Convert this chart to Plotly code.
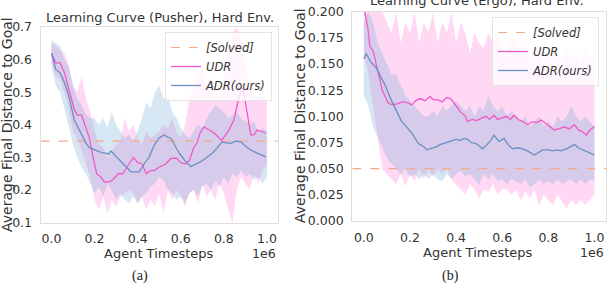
import plotly.graph_objects as go

# ---------------- data: panel (a) Pusher ----------------
a_udr_t = [0.0,0.02,0.04,0.06,0.08,0.107,0.12,0.14,0.16,0.176,0.19,0.21,0.23,0.245,0.27,0.29,0.31,0.33,0.35,0.38,0.40,0.42,0.44,0.46,0.477,0.50,0.53,0.554,0.58,0.60,0.62,0.64,0.66,0.676,0.69,0.708,0.73,0.755,0.77,0.79,0.82,0.847,0.865,0.885,0.895,0.91,0.925,0.94,0.955,0.975,0.994]
a_udr_v = [0.62,0.59,0.59,0.56,0.51,0.445,0.43,0.43,0.39,0.36,0.31,0.25,0.24,0.225,0.225,0.235,0.25,0.25,0.27,0.30,0.285,0.28,0.25,0.26,0.26,0.27,0.28,0.297,0.298,0.285,0.28,0.29,0.33,0.345,0.375,0.394,0.385,0.375,0.365,0.353,0.38,0.415,0.47,0.515,0.49,0.43,0.369,0.37,0.384,0.38,0.375]
a_adr_t = [0.0,0.02,0.04,0.06,0.08,0.106,0.125,0.145,0.16,0.176,0.195,0.213,0.233,0.253,0.265,0.276,0.29,0.305,0.338,0.369,0.39,0.407,0.43,0.454,0.477,0.50,0.523,0.54,0.554,0.575,0.593,0.62,0.647,0.67,0.693,0.72,0.747,0.77,0.793,0.81,0.832,0.855,0.878,0.90,0.925,0.95,0.97,0.994]
a_adr_v = [0.62,0.57,0.56,0.53,0.49,0.415,0.39,0.364,0.344,0.33,0.325,0.318,0.315,0.313,0.31,0.32,0.31,0.298,0.277,0.256,0.255,0.256,0.28,0.302,0.338,0.36,0.369,0.362,0.359,0.335,0.313,0.29,0.272,0.28,0.287,0.30,0.313,0.33,0.348,0.345,0.343,0.35,0.348,0.335,0.323,0.315,0.31,0.302]

band_t = [0.00,0.02,0.04,0.06,0.08,0.10,0.12,0.14,0.16,0.18,0.20,0.22,0.24,0.26,0.28,0.30,0.32,0.34,0.36,0.38,0.40,0.42,0.44,0.46,0.48,0.50,0.52,0.54,0.56,0.58,0.60,0.62,0.64,0.66,0.68,0.70,0.72,0.74,0.76,0.78,0.80,0.82,0.84,0.86,0.88,0.90,0.92,0.94,0.96,0.98,1.00]

a_udr_lo = [0.59,0.55,0.54,0.50,0.45,0.38,0.36,0.32,0.28,0.24,0.17,0.14,0.18,0.13,0.17,0.15,0.18,0.19,0.20,0.19,0.16,0.18,0.14,0.17,0.15,0.19,0.13,0.20,0.17,0.20,0.18,0.15,0.19,0.20,0.16,0.22,0.18,0.20,0.17,0.22,0.19,0.14,0.10,0.20,0.24,0.22,0.20,0.25,0.22,0.26,0.28]
a_udr_hi = [0.65,0.64,0.63,0.62,0.58,0.52,0.50,0.55,0.48,0.44,0.38,0.34,0.33,0.30,0.32,0.34,0.35,0.42,0.38,0.40,0.36,0.34,0.38,0.36,0.37,0.38,0.40,0.39,0.42,0.38,0.36,0.40,0.48,0.52,0.56,0.58,0.52,0.56,0.50,0.48,0.55,0.62,0.68,0.70,0.66,0.58,0.52,0.50,0.48,0.50,0.47]
a_adr_lo = [0.58,0.52,0.50,0.45,0.40,0.34,0.30,0.27,0.25,0.22,0.19,0.21,0.18,0.22,0.20,0.17,0.19,0.17,0.16,0.18,0.16,0.18,0.19,0.21,0.22,0.24,0.23,0.20,0.19,0.17,0.18,0.16,0.19,0.20,0.18,0.21,0.22,0.20,0.23,0.21,0.24,0.22,0.25,0.24,0.26,0.24,0.25,0.23,0.24,0.22,0.24]
a_adr_hi = [0.66,0.65,0.64,0.60,0.58,0.52,0.48,0.46,0.43,0.42,0.42,0.40,0.42,0.39,0.44,0.40,0.38,0.36,0.37,0.35,0.38,0.42,0.47,0.45,0.50,0.52,0.48,0.49,0.44,0.42,0.39,0.37,0.36,0.38,0.40,0.39,0.42,0.44,0.46,0.45,0.44,0.42,0.43,0.44,0.42,0.41,0.40,0.41,0.38,0.39,0.38]
a_solved = 0.35

# ---------------- data: panel (b) Ergo ----------------
b_udr_t = [0.0,0.004,0.019,0.026,0.041,0.063,0.08,0.092,0.105,0.121,0.143,0.17,0.19,0.208,0.225,0.245,0.265,0.288,0.30,0.317,0.34,0.36,0.376,0.39,0.405,0.42,0.441,0.448,0.47,0.49,0.507,0.53,0.545,0.565,0.58,0.594,0.62,0.635,0.651,0.67,0.69,0.71,0.73,0.75,0.769,0.79,0.81,0.826,0.845,0.869,0.89,0.913,0.93,0.95,0.965,0.98,1.0]
b_udr_v = [0.22,0.2,0.182,0.167,0.162,0.141,0.125,0.119,0.113,0.111,0.112,0.114,0.113,0.111,0.115,0.117,0.115,0.119,0.116,0.116,0.114,0.118,0.117,0.113,0.109,0.104,0.1,0.095,0.097,0.096,0.098,0.1,0.097,0.101,0.097,0.098,0.1,0.097,0.101,0.097,0.095,0.092,0.095,0.094,0.0965,0.093,0.09,0.087,0.088,0.09,0.088,0.092,0.087,0.085,0.082,0.087,0.09]
b_adr_t = [0.0,0.01,0.03,0.055,0.075,0.092,0.12,0.14,0.164,0.185,0.208,0.237,0.26,0.273,0.288,0.3,0.317,0.33,0.346,0.36,0.376,0.4,0.419,0.434,0.45,0.465,0.485,0.5,0.514,0.53,0.55,0.565,0.575,0.587,0.608,0.625,0.645,0.665,0.689,0.71,0.739,0.76,0.776,0.8,0.82,0.834,0.855,0.878,0.895,0.914,0.93,0.95,0.975,1.0]
b_adr_v = [0.155,0.16,0.152,0.146,0.137,0.13,0.115,0.106,0.095,0.09,0.084,0.074,0.071,0.068,0.069,0.07,0.071,0.073,0.074,0.075,0.076,0.078,0.077,0.079,0.078,0.075,0.074,0.072,0.069,0.072,0.077,0.082,0.079,0.076,0.079,0.073,0.069,0.07,0.069,0.067,0.063,0.066,0.068,0.068,0.067,0.068,0.067,0.069,0.071,0.073,0.07,0.068,0.066,0.063]

b_udr_lo = [0.16,0.14,0.11,0.08,0.05,0.045,0.04,0.035,0.045,0.033,0.045,0.038,0.05,0.04,0.05,0.042,0.05,0.045,0.05,0.04,0.035,0.03,0.025,0.035,0.03,0.022,0.03,0.028,0.035,0.025,0.03,0.03,0.025,0.03,0.02,0.028,0.022,0.03,0.015,0.025,0.02,0.015,0.025,0.018,0.012,0.02,0.015,0.02,0.015,0.02,0.025]
b_udr_hi = [0.26,0.24,0.22,0.21,0.20,0.19,0.18,0.20,0.17,0.19,0.18,0.20,0.17,0.19,0.18,0.20,0.17,0.19,0.18,0.20,0.17,0.19,0.18,0.16,0.18,0.17,0.165,0.18,0.17,0.18,0.165,0.16,0.18,0.17,0.16,0.17,0.155,0.165,0.16,0.15,0.165,0.155,0.16,0.15,0.165,0.155,0.16,0.15,0.165,0.155,0.16]
b_adr_lo = [0.12,0.11,0.09,0.08,0.07,0.06,0.055,0.05,0.045,0.05,0.042,0.045,0.04,0.045,0.04,0.045,0.04,0.038,0.045,0.04,0.045,0.048,0.042,0.045,0.04,0.035,0.045,0.04,0.045,0.038,0.04,0.035,0.04,0.038,0.035,0.04,0.032,0.035,0.04,0.035,0.038,0.035,0.04,0.035,0.038,0.04,0.035,0.04,0.035,0.04,0.038]
b_adr_hi = [0.19,0.20,0.19,0.17,0.16,0.15,0.14,0.14,0.13,0.12,0.115,0.11,0.105,0.10,0.10,0.105,0.10,0.11,0.105,0.11,0.115,0.11,0.105,0.11,0.10,0.11,0.105,0.12,0.11,0.105,0.11,0.10,0.105,0.10,0.095,0.10,0.09,0.095,0.10,0.09,0.095,0.09,0.10,0.095,0.10,0.11,0.10,0.095,0.10,0.095,0.09]
b_solved = 0.05

x_ticks = [0.0, 0.2, 0.4, 0.6, 0.8, 1.0]
x_ticklabels = ["0.0", "0.2", "0.4", "0.6", "0.8", "1.0"]
a_yticks = [0.1, 0.2, 0.3, 0.4, 0.5, 0.6, 0.7]
a_yticklabels = ["0.1", "0.2", "0.3", "0.4", "0.5", "0.6", "0.7"]
b_yticks = [0.0, 0.025, 0.05, 0.075, 0.1, 0.125, 0.15, 0.175, 0.2]
b_yticklabels = ["0.000", "0.025", "0.050", "0.075", "0.100", "0.125", "0.150", "0.175", "0.200"]

# ---------------- style ----------------
W, H = 608, 291
UDR_C = "#f05ac8"
ADR_C = "#6a8fc4"
SOLVED_C = "#f6a98a"
UDR_FILL = "rgba(255,105,210,0.26)"
ADR_FILL = "rgba(127,176,216,0.32)"
TXT = "#333333"
FRAME = "#dedede"
FONT = "DejaVu Sans"

def px(x):
    return x / W

def py(y):
    return 1 - y / H

fig = go.Figure()

def add_panel(xa, ya, legend, udr_t, udr_v, adr_t, adr_v, udr_lo, udr_hi, adr_lo, adr_hi, solved):
    fig.add_trace(go.Scatter(x=band_t + band_t[::-1], y=udr_hi + udr_lo[::-1], fill="toself",
                             fillcolor=UDR_FILL, line=dict(width=0), hoverinfo="skip",
                             showlegend=False, xaxis=xa, yaxis=ya))
    fig.add_trace(go.Scatter(x=band_t + band_t[::-1], y=adr_hi + adr_lo[::-1], fill="toself",
                             fillcolor=ADR_FILL, line=dict(width=0), hoverinfo="skip",
                             showlegend=False, xaxis=xa, yaxis=ya))
    fig.add_trace(go.Scatter(x=[-0.05, 1.05], y=[solved, solved], mode="lines",
                             line=dict(color=SOLVED_C, width=1.2, dash="dash"),
                             name="<i>[Solved]</i>", legend=legend, xaxis=xa, yaxis=ya))
    fig.add_trace(go.Scatter(x=udr_t, y=udr_v, mode="lines", line=dict(color=UDR_C, width=1.3),
                             name="<i>UDR</i>", legend=legend, xaxis=xa, yaxis=ya))
    fig.add_trace(go.Scatter(x=adr_t, y=adr_v, mode="lines", line=dict(color=ADR_C, width=1.3),
                             name="<i>ADR(ours)</i>", legend=legend, xaxis=xa, yaxis=ya))

add_panel("x", "y", "legend", a_udr_t, a_udr_v, a_adr_t, a_adr_v, a_udr_lo, a_udr_hi, a_adr_lo, a_adr_hi, a_solved)
add_panel("x2", "y2", "legend2", b_udr_t, b_udr_v, b_adr_t, b_adr_v, b_udr_lo, b_udr_hi, b_adr_lo, b_adr_hi, b_solved)

axis_common = dict(showgrid=False, zeroline=False, showline=True, mirror=True,
                   linecolor=FRAME, linewidth=1.3, ticks="", automargin=False,
                   tickfont=dict(family=FONT, size=12.5, color=TXT))

fig.update_layout(
    width=W, height=H, margin=dict(l=0, r=0, t=0, b=0, pad=0, autoexpand=False),
    paper_bgcolor="white", plot_bgcolor="white",
    font=dict(family=FONT, color=TXT),
    xaxis=dict(domain=[px(40.7), px(277.7)], range=[-0.05, 1.05], anchor="y",
               tickvals=x_ticks, ticktext=x_ticklabels, ticklabelstandoff=4, **axis_common),
    yaxis=dict(domain=[py(222.7), py(27)], range=[0.1, 0.7], anchor="x",
               tickvals=a_yticks, ticktext=a_yticklabels, ticklabelstandoff=5, **axis_common),
    xaxis2=dict(domain=[px(352.3), px(606)], range=[-0.05, 1.05], anchor="y2",
                tickvals=x_ticks, ticktext=x_ticklabels, ticklabelstandoff=5, **axis_common),
    yaxis2=dict(domain=[py(221), py(11.7)], range=[0.0, 0.2], anchor="x2",
                tickvals=b_yticks, ticktext=b_yticklabels, ticklabelstandoff=5, **axis_common),
    legend=dict(x=px(272), y=py(32), xanchor="right", yanchor="top",
                bgcolor="rgba(255,255,255,0.8)", bordercolor="#e4e4e4", borderwidth=1,
                font=dict(family=FONT, size=11.5, color=TXT), tracegroupgap=0,
                itemwidth=30),
    legend2=dict(x=px(599), y=py(17), xanchor="right", yanchor="top",
                 bgcolor="rgba(255,255,255,0.8)", bordercolor="#e4e4e4", borderwidth=1,
                 font=dict(family=FONT, size=11.5, color=TXT), tracegroupgap=0,
                 itemwidth=30),
    showlegend=True,
)

def ann(text, x, y, size=12, angle=0, xanchor="center", family=FONT, color=TXT):
    fig.add_annotation(text=text, x=px(x), y=py(y), xref="paper", yref="paper",
                       showarrow=False, textangle=angle, xanchor=xanchor, yanchor="middle",
                       font=dict(family=family, size=size, color=color))

# titles
ann("Learning Curve (Pusher), Hard Env.", 159.5, 17, size=13)
ann("Learning Curve (Ergo), Hard Env.", 477, 0.5, size=13)
# axis titles
ann("Average Final Distance to Goal", 7, 125, size=14, angle=-90)
ann("Average Final Distance to Goal", 300, 116, size=14, angle=-90)
ann("Agent Timesteps", 159, 253.5, size=13)
ann("Agent Timesteps", 478, 252, size=13)
# offset text
ann("1e6", 278, 253.5, size=12.5, xanchor="right")
ann("1e6", 606, 252, size=12.5, xanchor="right")
# captions
ann("(a)", 140, 276, size=14, family="Liberation Serif", color="#222222")
ann("(b)", 450, 276, size=14, family="Liberation Serif", color="#222222")

fig.write_html("out.html")
